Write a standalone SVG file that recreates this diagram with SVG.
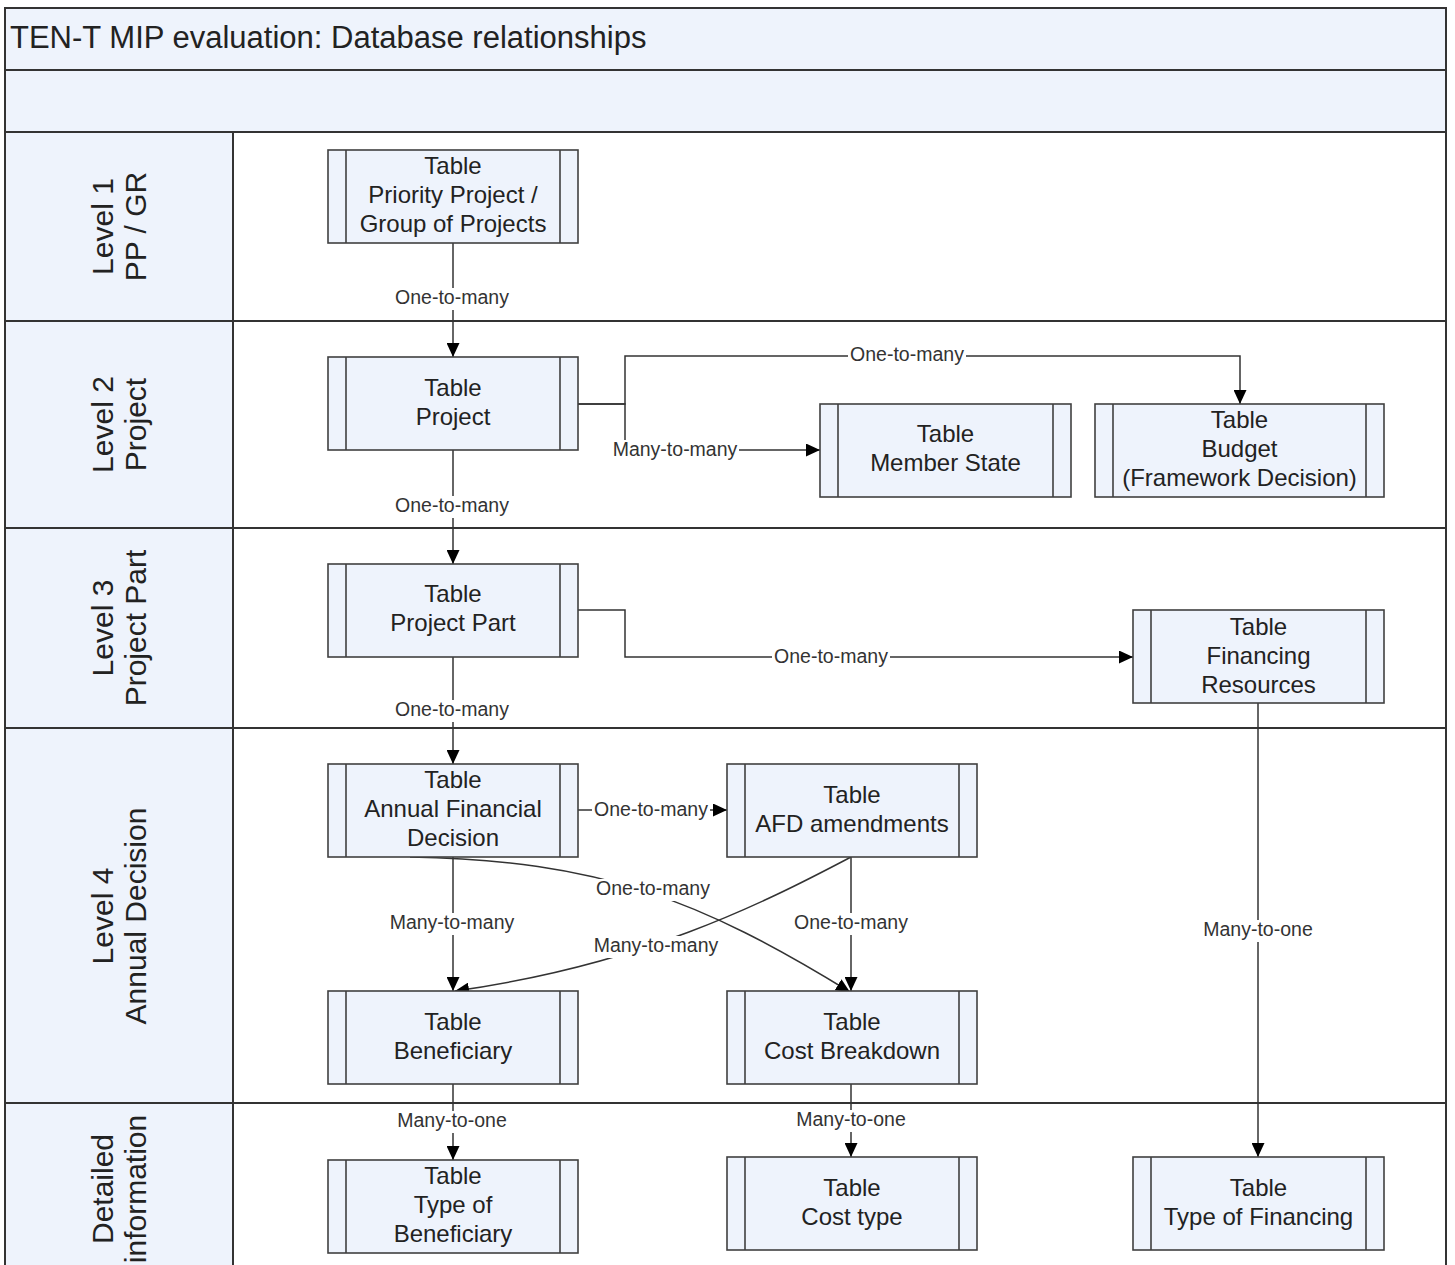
<svg xmlns="http://www.w3.org/2000/svg" width="1455" height="1265" viewBox="0 0 1455 1265">
<style>
.bg{fill:#EEF3FC;stroke:none}
.frame{fill:none;stroke:#333;stroke-width:2}
.box{fill:#EEF3FC;stroke:#404040;stroke-width:1.6}
.inner{stroke:#404040;stroke-width:1.6}
.nt{font-family:"Liberation Sans",Arial,sans-serif;font-size:24px;fill:#222;text-anchor:middle}
.lane{font-family:"Liberation Sans",Arial,sans-serif;font-size:30px;fill:#222;text-anchor:middle}
.title{font-family:"Liberation Sans",Arial,sans-serif;font-size:31px;fill:#222}
.conn{fill:none;stroke:#333;stroke-width:1.5}
.lb{fill:#fff;stroke:none}
.lbl{font-family:"Liberation Sans",Arial,sans-serif;font-size:19.5px;fill:#333;text-anchor:middle}
</style>
<defs>
<marker id="arr" markerUnits="userSpaceOnUse" markerWidth="15" markerHeight="13" refX="14" refY="6.5" orient="auto">
<path d="M0,0 L14,6.5 L0,13 Z" fill="#000"/>
</marker>
</defs>
<rect width="1455" height="1265" fill="#fff"/>
<g id="frame">
<rect class="bg" x="5" y="8" width="1441" height="124"/>
<rect class="bg" x="5" y="132" width="228" height="1140"/>
<path class="frame" d="M5,1272 V8 H1446 V1272 M5,70 H1446 M5,132 H1446 M233,132 V1272 M5,321 H1446 M5,528 H1446 M5,728 H1446 M5,1103 H1446"/>
<text class="title" x="10" y="48">TEN-T MIP evaluation: Database relationships</text>
</g>
<g id="lanes">
<text class="lane" transform="translate(120,226.5) rotate(-90)"><tspan x="0" y="-7">Level 1</tspan><tspan x="0" y="26">PP / GR</tspan></text>
<text class="lane" transform="translate(120,424.5) rotate(-90)"><tspan x="0" y="-7">Level 2</tspan><tspan x="0" y="26">Project</tspan></text>
<text class="lane" transform="translate(120,628) rotate(-90)"><tspan x="0" y="-7">Level 3</tspan><tspan x="0" y="26">Project Part</tspan></text>
<text class="lane" transform="translate(120,916) rotate(-90)"><tspan x="0" y="-7">Level 4</tspan><tspan x="0" y="26">Annual Decision</tspan></text>
<text class="lane" transform="translate(120,1189) rotate(-90)"><tspan x="0" y="-7">Detailed</tspan><tspan x="0" y="26">information</tspan></text>
</g>
<g id="connectors">
<path class="conn" d="M453,243 V357" marker-end="url(#arr)"/>
<path class="conn" d="M578,404 H625 V356 H1240 V404" marker-end="url(#arr)"/>
<path class="conn" d="M578,404 H625 V450 H820" marker-end="url(#arr)"/>
<path class="conn" d="M453,450 V564" marker-end="url(#arr)"/>
<path class="conn" d="M578,610 H625 V657 H1133" marker-end="url(#arr)"/>
<path class="conn" d="M453,657 V764" marker-end="url(#arr)"/>
<path class="conn" d="M578,810 H727" marker-end="url(#arr)"/>
<path class="conn" d="M453,857 V991" marker-end="url(#arr)"/>
<path class="conn" d="M410,857 C600,860 700,900 850,992" marker-end="url(#arr)"/>
<path class="conn" d="M851,857 C760,905 640,965 455,991" marker-end="url(#arr)"/>
<path class="conn" d="M851,857 V991" marker-end="url(#arr)"/>
<path class="conn" d="M1258,703 V1157" marker-end="url(#arr)"/>
<path class="conn" d="M453,1084 V1160" marker-end="url(#arr)"/>
<path class="conn" d="M851,1084 V1157" marker-end="url(#arr)"/>
<rect class="lb" x="393" y="288" width="118" height="22"/>
<rect class="lb" x="848" y="345" width="118" height="22"/>
<rect class="lb" x="611" y="440" width="128" height="22"/>
<rect class="lb" x="393" y="496" width="118" height="22"/>
<rect class="lb" x="772" y="647" width="118" height="22"/>
<rect class="lb" x="393" y="700" width="118" height="22"/>
<rect class="lb" x="592" y="800" width="118" height="22"/>
<rect class="lb" x="594" y="879" width="118" height="22"/>
<rect class="lb" x="388" y="913" width="128" height="22"/>
<rect class="lb" x="792" y="913" width="118" height="22"/>
<rect class="lb" x="592" y="936" width="128" height="22"/>
<rect class="lb" x="1201" y="920" width="114" height="22"/>
<rect class="lb" x="395" y="1111" width="114" height="22"/>
<rect class="lb" x="794" y="1110" width="114" height="22"/>
<text class="lbl" x="452" y="304">One-to-many</text>
<text class="lbl" x="907" y="361">One-to-many</text>
<text class="lbl" x="675" y="456">Many-to-many</text>
<text class="lbl" x="452" y="512">One-to-many</text>
<text class="lbl" x="831" y="663">One-to-many</text>
<text class="lbl" x="452" y="716">One-to-many</text>
<text class="lbl" x="651" y="816">One-to-many</text>
<text class="lbl" x="653" y="895">One-to-many</text>
<text class="lbl" x="452" y="929">Many-to-many</text>
<text class="lbl" x="851" y="929">One-to-many</text>
<text class="lbl" x="656" y="952">Many-to-many</text>
<text class="lbl" x="1258" y="936">Many-to-one</text>
<text class="lbl" x="452" y="1127">Many-to-one</text>
<text class="lbl" x="851" y="1126">Many-to-one</text>
</g>
<g id="n-priority-project">
<rect class="box" x="328" y="150" width="250" height="93"/>
<path class="inner" d="M346,150 V243 M560,150 V243"/>
<text class="nt"><tspan x="453" y="174">Table</tspan><tspan x="453" y="203">Priority Project /</tspan><tspan x="453" y="232">Group of Projects</tspan></text>
</g>
<g id="n-project">
<rect class="box" x="328" y="357" width="250" height="93"/>
<path class="inner" d="M346,357 V450 M560,357 V450"/>
<text class="nt"><tspan x="453" y="396">Table</tspan><tspan x="453" y="425">Project</tspan></text>
</g>
<g id="n-member-state">
<rect class="box" x="820" y="404" width="251" height="93"/>
<path class="inner" d="M838,404 V497 M1053,404 V497"/>
<text class="nt"><tspan x="945.5" y="442">Table</tspan><tspan x="945.5" y="471">Member State</tspan></text>
</g>
<g id="n-budget">
<rect class="box" x="1095" y="404" width="289" height="93"/>
<path class="inner" d="M1113,404 V497 M1366,404 V497"/>
<text class="nt"><tspan x="1239.5" y="428">Table</tspan><tspan x="1239.5" y="457">Budget</tspan><tspan x="1239.5" y="486">(Framework Decision)</tspan></text>
</g>
<g id="n-project-part">
<rect class="box" x="328" y="564" width="250" height="93"/>
<path class="inner" d="M346,564 V657 M560,564 V657"/>
<text class="nt"><tspan x="453" y="602">Table</tspan><tspan x="453" y="631">Project Part</tspan></text>
</g>
<g id="n-financing-resources">
<rect class="box" x="1133" y="610" width="251" height="93"/>
<path class="inner" d="M1151,610 V703 M1366,610 V703"/>
<text class="nt"><tspan x="1258.5" y="635">Table</tspan><tspan x="1258.5" y="664">Financing</tspan><tspan x="1258.5" y="693">Resources</tspan></text>
</g>
<g id="n-afd">
<rect class="box" x="328" y="764" width="250" height="93"/>
<path class="inner" d="M346,764 V857 M560,764 V857"/>
<text class="nt"><tspan x="453" y="788">Table</tspan><tspan x="453" y="817">Annual Financial</tspan><tspan x="453" y="846">Decision</tspan></text>
</g>
<g id="n-afd-amendments">
<rect class="box" x="727" y="764" width="250" height="93"/>
<path class="inner" d="M745,764 V857 M959,764 V857"/>
<text class="nt"><tspan x="852" y="803">Table</tspan><tspan x="852" y="832">AFD amendments</tspan></text>
</g>
<g id="n-beneficiary">
<rect class="box" x="328" y="991" width="250" height="93"/>
<path class="inner" d="M346,991 V1084 M560,991 V1084"/>
<text class="nt"><tspan x="453" y="1030">Table</tspan><tspan x="453" y="1059">Beneficiary</tspan></text>
</g>
<g id="n-cost-breakdown">
<rect class="box" x="727" y="991" width="250" height="93"/>
<path class="inner" d="M745,991 V1084 M959,991 V1084"/>
<text class="nt"><tspan x="852" y="1030">Table</tspan><tspan x="852" y="1059">Cost Breakdown</tspan></text>
</g>
<g id="n-type-of-beneficiary">
<rect class="box" x="328" y="1160" width="250" height="93"/>
<path class="inner" d="M346,1160 V1253 M560,1160 V1253"/>
<text class="nt"><tspan x="453" y="1184">Table</tspan><tspan x="453" y="1213">Type of</tspan><tspan x="453" y="1242">Beneficiary</tspan></text>
</g>
<g id="n-cost-type">
<rect class="box" x="727" y="1157" width="250" height="93"/>
<path class="inner" d="M745,1157 V1250 M959,1157 V1250"/>
<text class="nt"><tspan x="852" y="1196">Table</tspan><tspan x="852" y="1225">Cost type</tspan></text>
</g>
<g id="n-type-of-financing">
<rect class="box" x="1133" y="1157" width="251" height="93"/>
<path class="inner" d="M1151,1157 V1250 M1366,1157 V1250"/>
<text class="nt"><tspan x="1258.5" y="1196">Table</tspan><tspan x="1258.5" y="1225">Type of Financing</tspan></text>
</g>
</svg>
